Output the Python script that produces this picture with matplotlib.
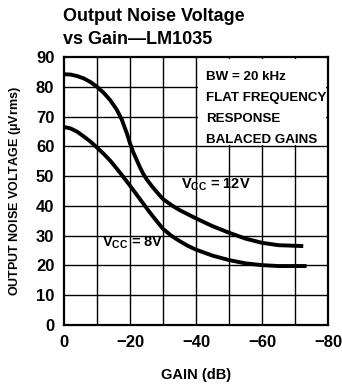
import matplotlib
matplotlib.use("Agg")
import matplotlib.pyplot as plt
from matplotlib import font_manager
from matplotlib.patches import Rectangle

# --- Data ---
gain_12v = [0, -2, -4, -6, -8, -10, -12, -14, -16, -17.5, -19, -20, -21, -22, -23, -24, -25,
            -26.5, -28, -30, -32.5, -35, -37.5, -40, -45, -50, -55, -60, -65, -72.5]
noise_12v = [84.2, 84.1, 83.6, 82.8, 81.6, 80.0, 78.0, 75.5, 72.3, 69.0, 64.5, 61.0, 58.0, 55.5,
             53.0, 50.8, 49.0, 46.8, 44.8, 42.3, 40.3, 38.6, 37.2, 35.8, 33.2, 31.0, 29.0, 27.6, 26.8, 26.5]

gain_8v = [0, -2, -4, -6, -8, -10, -12, -14, -16, -18, -20, -22, -24, -26, -28, -30, -32.5,
           -35, -37.5, -40, -45, -50, -55, -60, -65, -73.5]
noise_8v = [66.5, 66.0, 64.9, 63.3, 61.6, 59.6, 57.5, 55.2, 52.5, 49.7, 46.8, 43.8, 40.8, 37.8,
            35.0, 32.3, 30.0, 28.2, 26.6, 25.3, 23.3, 21.8, 20.7, 20.1, 19.8, 19.8]

x_ticks = [0, -20, -40, -60, -80]
y_ticks = [0, 10, 20, 30, 40, 50, 60, 70, 80, 90]
grid_x = [-10, -20, -30, -40, -50, -60, -70]
grid_y = [10, 20, 30, 40, 50, 60, 70, 80]

note_text = "BW = 20 kHz\nFLAT FREQUENCY\nRESPONSE\nBALACED GAINS"

# narrow font if there is one
names = {f.name for f in font_manager.fontManager.ttflist}
narrow = 'Liberation Sans Narrow' if 'Liberation Sans Narrow' in names else None

plt.rcParams['font.family'] = ['Liberation Sans', 'DejaVu Sans']
plt.rcParams['font.weight'] = 'bold'
plt.rcParams['mathtext.fontset'] = 'custom'
plt.rcParams['mathtext.rm'] = 'Liberation Sans:bold'
plt.rcParams['mathtext.it'] = 'Liberation Sans:bold'
plt.rcParams['mathtext.bf'] = 'Liberation Sans:bold'

if narrow:
    note_kw = dict(family=[narrow, 'DejaVu Sans'], fontsize=11.5, linespacing=1.75)
else:
    note_kw = dict(family=['Liberation Sans', 'DejaVu Sans'], fontsize=9.6, linespacing=2.0)

W, H = 342, 386
fig = plt.figure(figsize=(W / 100, H / 100), dpi=100)
ax = fig.add_axes([64 / W, 1 - 325 / H, (328 - 64) / W, (325 - 57) / H])

ax.set_xlim(0, -80)
ax.set_ylim(0, 90)
ax.set_xticks(x_ticks)
ax.set_yticks(y_ticks)
ax.tick_params(length=0, labelsize=12, pad=7)
for s in ax.spines.values():
    s.set_linewidth(1.6)
    s.set_zorder(5)

# grid
for gx in grid_x:
    ax.axvline(gx, color='black', linewidth=1.0, zorder=1)
for gy in grid_y:
    ax.axhline(gy, color='black', linewidth=1.0, zorder=1)

# white note box over the grid (upper right), leaving short stubs at the frame
ax.add_patch(Rectangle((-40.6, 60.5), -38.7, 28.7, facecolor='white',
                       edgecolor='none', zorder=1.5))

ax.plot(gain_12v, noise_12v, color='black', linewidth=2.8,
        solid_joinstyle='round', solid_capstyle='butt', zorder=3)
ax.plot(gain_8v, noise_8v, color='black', linewidth=2.8,
        solid_joinstyle='round', solid_capstyle='butt', zorder=3)

ax.text(-35.5, 47, r'V$_{\mathregular{CC}}$ = 12V', fontsize=10.5,
        fontweight='bold', va='center', ha='left', zorder=4)
ax.text(-11.5, 27.5, r'V$_{\mathregular{CC}}$ = 8V', fontsize=10.5,
        fontweight='bold', va='center', ha='left', zorder=4)

ax.text(-43, 85.4, note_text, fontweight='bold', va='top', ha='left',
        zorder=4, **note_kw)

ax.set_xlabel('GAIN (dB)', fontsize=10.5, fontweight='bold', labelpad=13)
ax.set_ylabel(r'OUTPUT NOISE VOLTAGE ($\mu$Vrms)', fontsize=9, fontweight='bold', labelpad=9)

fig.text(63 / W, 1 - 21 / H, 'Output Noise Voltage', fontsize=13,
         fontweight='bold', va='baseline', ha='left')
fig.text(63 / W, 1 - 44 / H, 'vs Gain\u2014LM1035', fontsize=13,
         fontweight='bold', va='baseline', ha='left')

fig.savefig('out.png', dpi=100)
